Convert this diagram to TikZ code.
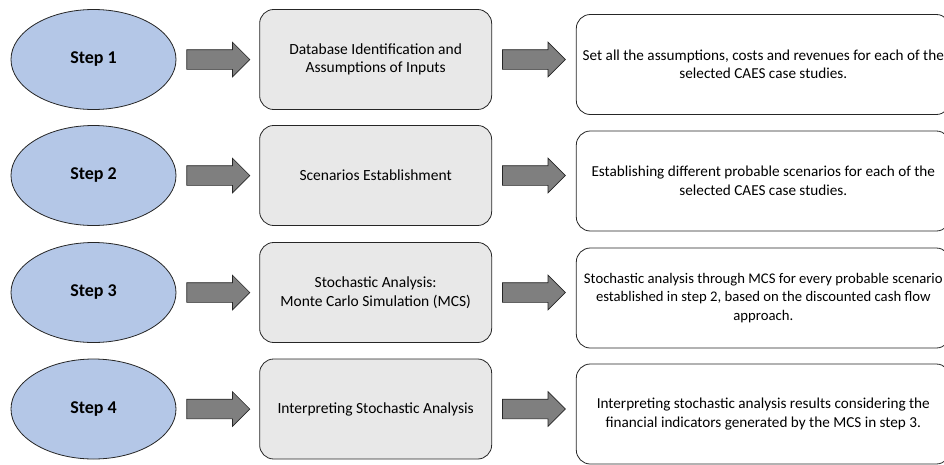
\documentclass[tikz,border=0pt]{standalone}
\usepackage{fontspec}
\setmainfont{Carlito}
\usetikzlibrary{positioning, shapes.geometric, shapes.arrows}
\definecolor{stepblue}{HTML}{B4C7E7}
\definecolor{taskgray}{HTML}{E8E8E8}
\definecolor{arrowgray}{HTML}{7F7F7F}

\begin{document}
\begin{tikzpicture}[x=1pt, y=-1pt,
        % Styles
        stepnode/.style={ellipse, draw=black!85, line width=0.8pt, fill=stepblue, minimum width=165pt, minimum height=100pt, font=\fontsize{18}{21}\selectfont\bfseries},
        task/.style={draw=black!85, line width=0.8pt, rounded corners=14pt, fill=taskgray, minimum width=232pt, minimum height=100pt, font=\fontsize{15.5}{18.5}\selectfont, align=center},
        outcome/.style={task, fill=white, minimum width=374pt, font=\fontsize{15.2}{18.5}\selectfont},
        blockarrow/.style={single arrow, draw=black!85, line width=0.7pt, fill=arrowgray, minimum height=63pt, minimum width=34pt, text height=19pt, text depth=0pt, single arrow head extend=7.5pt, single arrow tip angle=90, inner sep=0pt},
    ]
        % === Page frame ===
        \useasboundingbox (0,0) rectangle (944,464);

        % === Row 1 ===
        \node[stepnode] (step1) at (93.5,59.5) {Step 1};
        \node[blockarrow, right=10pt of step1] (arrA1) {};
        \node[task, right=9pt of arrA1] (task1) {Database Identification and\\Assumptions of Inputs};
        \node[blockarrow, right=10pt of task1] (arrB1) {};
        \node[outcome, anchor=west] (out1) at ([xshift=10pt, yshift=-5pt]arrB1.east) {Set all the assumptions, costs and revenues for each of the\\selected CAES case studies.};

        % === Row 2 ===
        \node[stepnode] (step2) at (93.5,175.5) {Step 2};
        \node[blockarrow, right=10pt of step2] (arrA2) {};
        \node[task, right=9pt of arrA2] (task2) {Scenarios Establishment};
        \node[blockarrow, right=10pt of task2] (arrB2) {};
        \node[outcome, anchor=west] (out2) at ([xshift=10pt, yshift=-5.5pt]arrB2.east) {Establishing different probable scenarios for each of the\\selected CAES case studies.};

        % === Row 3 ===
        \node[stepnode] (step3) at (93.5,292.5) {Step 3};
        \node[blockarrow, right=10pt of step3] (arrA3) {};
        \node[task, right=9pt of arrA3] (task3) {Stochastic Analysis:\\Monte Carlo Simulation (MCS)};
        \node[blockarrow, right=10pt of task3] (arrB3) {};
        \node[outcome, anchor=west, font=\fontsize{14.7}{18.5}\selectfont] (out3) at ([xshift=10pt, yshift=-5.5pt]arrB3.east) {Stochastic analysis through MCS for every probable scenario\\established in step 2, based on the discounted cash flow\\approach.};

        % === Row 4 ===
        \node[stepnode] (step4) at (93.5,409) {Step 4};
        \node[blockarrow, right=10pt of step4] (arrA4) {};
        \node[task, right=9pt of arrA4] (task4) {Interpreting Stochastic Analysis};
        \node[blockarrow, right=10pt of task4] (arrB4) {};
        \node[outcome, anchor=west] (out4) at ([xshift=10pt, yshift=-5pt]arrB4.east) {Interpreting stochastic analysis results considering the\\financial indicators generated by the MCS in step 3.};

    \end{tikzpicture}
\end{document}
